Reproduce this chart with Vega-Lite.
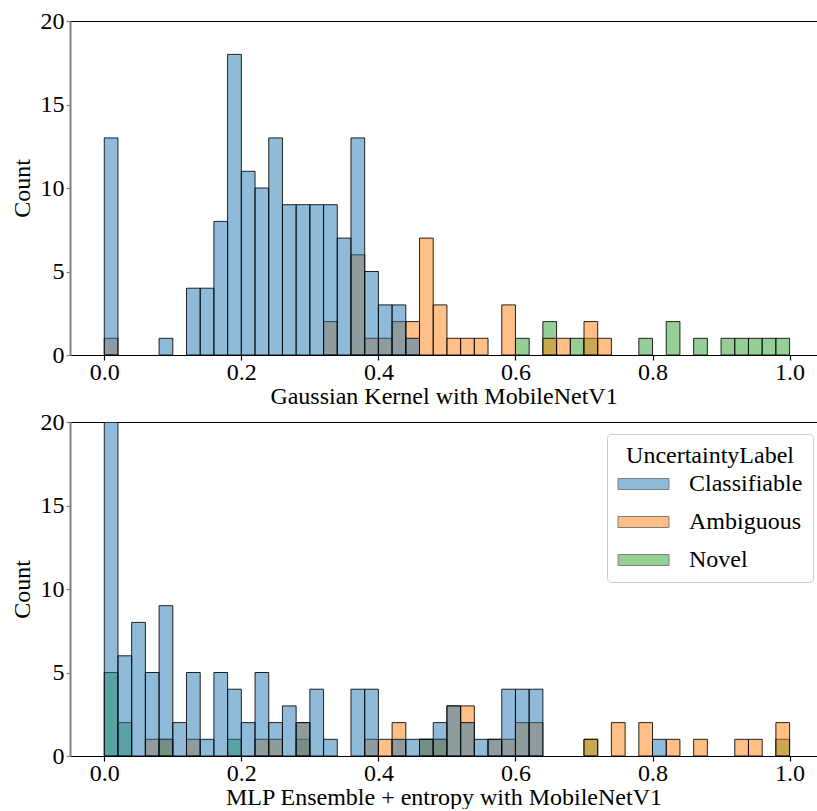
{
  "$schema": "https://vega.github.io/schema/vega-lite/v6.json",
  "padding": {"left": 10, "top": 9, "right": 0, "bottom": 0},
  "autosize": {"type": "pad"},
  "spacing": 2,
  "config": {
    "font": "Liberation Serif",
    "view": {"stroke": null},
    "axis": {
      "grid": false,
      "labelFont": "Liberation Serif",
      "labelFontSize": 24,
      "labelColor": "black",
      "titleFont": "Liberation Serif",
      "titleFontSize": 24,
      "titleFontWeight": "normal",
      "titleColor": "black",
      "labelFlush": false
    }
  },
  "datasets": {
    "top": [
      {"label": "Novel", "bin_start": 0.6, "bin_end": 0.62, "count": 1},
      {"label": "Novel", "bin_start": 0.64, "bin_end": 0.66, "count": 2},
      {"label": "Novel", "bin_start": 0.68, "bin_end": 0.7, "count": 1},
      {"label": "Novel", "bin_start": 0.7, "bin_end": 0.72, "count": 1},
      {"label": "Novel", "bin_start": 0.78, "bin_end": 0.8, "count": 1},
      {"label": "Novel", "bin_start": 0.82, "bin_end": 0.84, "count": 2},
      {"label": "Novel", "bin_start": 0.86, "bin_end": 0.88, "count": 1},
      {"label": "Novel", "bin_start": 0.9, "bin_end": 0.92, "count": 1},
      {"label": "Novel", "bin_start": 0.92, "bin_end": 0.94, "count": 1},
      {"label": "Novel", "bin_start": 0.94, "bin_end": 0.96, "count": 1},
      {"label": "Novel", "bin_start": 0.96, "bin_end": 0.98, "count": 1},
      {"label": "Novel", "bin_start": 0.98, "bin_end": 1.0, "count": 1},
      {"label": "Ambiguous", "bin_start": 0.0, "bin_end": 0.02, "count": 1},
      {"label": "Ambiguous", "bin_start": 0.32, "bin_end": 0.34, "count": 2},
      {"label": "Ambiguous", "bin_start": 0.36, "bin_end": 0.38, "count": 6},
      {"label": "Ambiguous", "bin_start": 0.38, "bin_end": 0.4, "count": 1},
      {"label": "Ambiguous", "bin_start": 0.4, "bin_end": 0.42, "count": 1},
      {"label": "Ambiguous", "bin_start": 0.42, "bin_end": 0.44, "count": 2},
      {"label": "Ambiguous", "bin_start": 0.44, "bin_end": 0.46, "count": 2},
      {"label": "Ambiguous", "bin_start": 0.46, "bin_end": 0.48, "count": 7},
      {"label": "Ambiguous", "bin_start": 0.48, "bin_end": 0.5, "count": 3},
      {"label": "Ambiguous", "bin_start": 0.5, "bin_end": 0.52, "count": 1},
      {"label": "Ambiguous", "bin_start": 0.52, "bin_end": 0.54, "count": 1},
      {"label": "Ambiguous", "bin_start": 0.54, "bin_end": 0.56, "count": 1},
      {"label": "Ambiguous", "bin_start": 0.58, "bin_end": 0.6, "count": 3},
      {"label": "Ambiguous", "bin_start": 0.64, "bin_end": 0.66, "count": 1},
      {"label": "Ambiguous", "bin_start": 0.66, "bin_end": 0.68, "count": 1},
      {"label": "Ambiguous", "bin_start": 0.7, "bin_end": 0.72, "count": 2},
      {"label": "Ambiguous", "bin_start": 0.72, "bin_end": 0.74, "count": 1},
      {"label": "Classifiable", "bin_start": 0.0, "bin_end": 0.02, "count": 13},
      {"label": "Classifiable", "bin_start": 0.08, "bin_end": 0.1, "count": 1},
      {"label": "Classifiable", "bin_start": 0.12, "bin_end": 0.14, "count": 4},
      {"label": "Classifiable", "bin_start": 0.14, "bin_end": 0.16, "count": 4},
      {"label": "Classifiable", "bin_start": 0.16, "bin_end": 0.18, "count": 8},
      {"label": "Classifiable", "bin_start": 0.18, "bin_end": 0.2, "count": 18},
      {"label": "Classifiable", "bin_start": 0.2, "bin_end": 0.22, "count": 11},
      {"label": "Classifiable", "bin_start": 0.22, "bin_end": 0.24, "count": 10},
      {"label": "Classifiable", "bin_start": 0.24, "bin_end": 0.26, "count": 13},
      {"label": "Classifiable", "bin_start": 0.26, "bin_end": 0.28, "count": 9},
      {"label": "Classifiable", "bin_start": 0.28, "bin_end": 0.3, "count": 9},
      {"label": "Classifiable", "bin_start": 0.3, "bin_end": 0.32, "count": 9},
      {"label": "Classifiable", "bin_start": 0.32, "bin_end": 0.34, "count": 9},
      {"label": "Classifiable", "bin_start": 0.34, "bin_end": 0.36, "count": 7},
      {"label": "Classifiable", "bin_start": 0.36, "bin_end": 0.38, "count": 13},
      {"label": "Classifiable", "bin_start": 0.38, "bin_end": 0.4, "count": 5},
      {"label": "Classifiable", "bin_start": 0.4, "bin_end": 0.42, "count": 3},
      {"label": "Classifiable", "bin_start": 0.42, "bin_end": 0.44, "count": 3},
      {"label": "Classifiable", "bin_start": 0.44, "bin_end": 0.46, "count": 1}
    ],
    "bottom": [
      {"label": "Novel", "bin_start": 0.0, "bin_end": 0.02, "count": 5},
      {"label": "Novel", "bin_start": 0.02, "bin_end": 0.04, "count": 2},
      {"label": "Novel", "bin_start": 0.08, "bin_end": 0.1, "count": 1},
      {"label": "Novel", "bin_start": 0.18, "bin_end": 0.2, "count": 1},
      {"label": "Novel", "bin_start": 0.28, "bin_end": 0.3, "count": 1},
      {"label": "Novel", "bin_start": 0.46, "bin_end": 0.48, "count": 1},
      {"label": "Novel", "bin_start": 0.48, "bin_end": 0.5, "count": 1},
      {"label": "Novel", "bin_start": 0.7, "bin_end": 0.72, "count": 1},
      {"label": "Novel", "bin_start": 0.98, "bin_end": 1.0, "count": 1},
      {"label": "Ambiguous", "bin_start": 0.06, "bin_end": 0.08, "count": 1},
      {"label": "Ambiguous", "bin_start": 0.08, "bin_end": 0.1, "count": 1},
      {"label": "Ambiguous", "bin_start": 0.12, "bin_end": 0.14, "count": 1},
      {"label": "Ambiguous", "bin_start": 0.22, "bin_end": 0.24, "count": 1},
      {"label": "Ambiguous", "bin_start": 0.24, "bin_end": 0.26, "count": 1},
      {"label": "Ambiguous", "bin_start": 0.28, "bin_end": 0.3, "count": 2},
      {"label": "Ambiguous", "bin_start": 0.38, "bin_end": 0.4, "count": 1},
      {"label": "Ambiguous", "bin_start": 0.4, "bin_end": 0.42, "count": 1},
      {"label": "Ambiguous", "bin_start": 0.42, "bin_end": 0.44, "count": 2},
      {"label": "Ambiguous", "bin_start": 0.46, "bin_end": 0.48, "count": 1},
      {"label": "Ambiguous", "bin_start": 0.48, "bin_end": 0.5, "count": 1},
      {"label": "Ambiguous", "bin_start": 0.5, "bin_end": 0.52, "count": 3},
      {"label": "Ambiguous", "bin_start": 0.52, "bin_end": 0.54, "count": 3},
      {"label": "Ambiguous", "bin_start": 0.56, "bin_end": 0.58, "count": 1},
      {"label": "Ambiguous", "bin_start": 0.58, "bin_end": 0.6, "count": 1},
      {"label": "Ambiguous", "bin_start": 0.6, "bin_end": 0.62, "count": 2},
      {"label": "Ambiguous", "bin_start": 0.62, "bin_end": 0.64, "count": 2},
      {"label": "Ambiguous", "bin_start": 0.7, "bin_end": 0.72, "count": 1},
      {"label": "Ambiguous", "bin_start": 0.74, "bin_end": 0.76, "count": 2},
      {"label": "Ambiguous", "bin_start": 0.78, "bin_end": 0.8, "count": 2},
      {"label": "Ambiguous", "bin_start": 0.82, "bin_end": 0.84, "count": 1},
      {"label": "Ambiguous", "bin_start": 0.86, "bin_end": 0.88, "count": 1},
      {"label": "Ambiguous", "bin_start": 0.92, "bin_end": 0.94, "count": 1},
      {"label": "Ambiguous", "bin_start": 0.94, "bin_end": 0.96, "count": 1},
      {"label": "Ambiguous", "bin_start": 0.98, "bin_end": 1.0, "count": 2},
      {"label": "Classifiable", "bin_start": 0.0, "bin_end": 0.02, "count": 53},
      {"label": "Classifiable", "bin_start": 0.02, "bin_end": 0.04, "count": 6},
      {"label": "Classifiable", "bin_start": 0.04, "bin_end": 0.06, "count": 8},
      {"label": "Classifiable", "bin_start": 0.06, "bin_end": 0.08, "count": 5},
      {"label": "Classifiable", "bin_start": 0.08, "bin_end": 0.1, "count": 9},
      {"label": "Classifiable", "bin_start": 0.1, "bin_end": 0.12, "count": 2},
      {"label": "Classifiable", "bin_start": 0.12, "bin_end": 0.14, "count": 5},
      {"label": "Classifiable", "bin_start": 0.14, "bin_end": 0.16, "count": 1},
      {"label": "Classifiable", "bin_start": 0.16, "bin_end": 0.18, "count": 5},
      {"label": "Classifiable", "bin_start": 0.18, "bin_end": 0.2, "count": 4},
      {"label": "Classifiable", "bin_start": 0.2, "bin_end": 0.22, "count": 2},
      {"label": "Classifiable", "bin_start": 0.22, "bin_end": 0.24, "count": 5},
      {"label": "Classifiable", "bin_start": 0.24, "bin_end": 0.26, "count": 2},
      {"label": "Classifiable", "bin_start": 0.26, "bin_end": 0.28, "count": 3},
      {"label": "Classifiable", "bin_start": 0.28, "bin_end": 0.3, "count": 2},
      {"label": "Classifiable", "bin_start": 0.3, "bin_end": 0.32, "count": 4},
      {"label": "Classifiable", "bin_start": 0.32, "bin_end": 0.34, "count": 1},
      {"label": "Classifiable", "bin_start": 0.36, "bin_end": 0.38, "count": 4},
      {"label": "Classifiable", "bin_start": 0.38, "bin_end": 0.4, "count": 4},
      {"label": "Classifiable", "bin_start": 0.42, "bin_end": 0.44, "count": 1},
      {"label": "Classifiable", "bin_start": 0.44, "bin_end": 0.46, "count": 1},
      {"label": "Classifiable", "bin_start": 0.46, "bin_end": 0.48, "count": 1},
      {"label": "Classifiable", "bin_start": 0.48, "bin_end": 0.5, "count": 2},
      {"label": "Classifiable", "bin_start": 0.5, "bin_end": 0.52, "count": 3},
      {"label": "Classifiable", "bin_start": 0.52, "bin_end": 0.54, "count": 2},
      {"label": "Classifiable", "bin_start": 0.54, "bin_end": 0.56, "count": 1},
      {"label": "Classifiable", "bin_start": 0.56, "bin_end": 0.58, "count": 1},
      {"label": "Classifiable", "bin_start": 0.58, "bin_end": 0.6, "count": 4},
      {"label": "Classifiable", "bin_start": 0.6, "bin_end": 0.62, "count": 4},
      {"label": "Classifiable", "bin_start": 0.62, "bin_end": 0.64, "count": 4},
      {"label": "Classifiable", "bin_start": 0.8, "bin_end": 0.82, "count": 1}
    ]
  },
  "resolve": {"legend": {"color": "independent"}},
  "vconcat": [
    {
      "width": 747,
      "height": 334,
      "data": {"name": "top"},
      "layer": [
        {
          "mark": {"type": "bar", "clip": true, "fillOpacity": 0.5, "stroke": "black", "strokeOpacity": 0.85, "strokeWidth": 1},
          "encoding": {
            "x": {"field": "bin_start", "type": "quantitative", "title": "Gaussian Kernel with MobileNetV1",
              "scale": {"domain": [-0.05, 1.04], "nice": false, "zero": false},
              "axis": {"values": [0, 0.2, 0.4, 0.6, 0.8, 1.0], "format": ".1f", "domainColor": "black", "domainWidth": 1.2, "tickColor": "black", "tickSize": 5, "tickWidth": 1.2, "labelPadding": 0, "titlePadding": 0}},
            "x2": {"field": "bin_end"},
            "y": {"field": "count", "type": "quantitative", "stack": null, "title": "Count",
              "scale": {"domain": [0, 20], "nice": false},
              "axis": {"values": [0, 5, 10, 15, 20], "domainColor": "#808080", "domainWidth": 2, "tickColor": "#808080", "tickSize": 4, "tickWidth": 1.2, "labelPadding": 2, "titlePadding": 6}},
            "y2": {"datum": 0},
            "color": {"field": "label", "type": "nominal",
              "scale": {"domain": ["Classifiable", "Ambiguous", "Novel"], "range": ["#1f77b4", "#ff7f0e", "#2ca02c"]},
              "legend": null}
          }
        },
        {
          "mark": {"type": "bar", "opacity": 0, "clip": true},
          "encoding": {
            "x": {"field": "bin_start", "type": "quantitative", "axis": {"orient": "top", "labels": false, "ticks": false, "title": null, "domainColor": "black", "domainWidth": 1.2}},
            "x2": {"field": "bin_end"},
            "y": {"field": "count", "type": "quantitative", "stack": null, "title": "Count"},
            "y2": {"datum": 0}
          }
        }
      ],
      "resolve": {"axis": {"x": "independent"}}
    },
    {
      "width": 747,
      "height": 334,
      "data": {"name": "bottom"},
      "layer": [
        {
          "mark": {"type": "bar", "clip": true, "fillOpacity": 0.5, "stroke": "black", "strokeOpacity": 0.85, "strokeWidth": 1},
          "encoding": {
            "x": {"field": "bin_start", "type": "quantitative", "title": "MLP Ensemble + entropy with MobileNetV1",
              "scale": {"domain": [-0.05, 1.04], "nice": false, "zero": false},
              "axis": {"values": [0, 0.2, 0.4, 0.6, 0.8, 1.0], "format": ".1f", "domainColor": "black", "domainWidth": 1.2, "tickColor": "black", "tickSize": 5, "tickWidth": 1.2, "labelPadding": 0, "titlePadding": 0}},
            "x2": {"field": "bin_end"},
            "y": {"field": "count", "type": "quantitative", "stack": null, "title": "Count",
              "scale": {"domain": [0, 20], "nice": false},
              "axis": {"values": [0, 5, 10, 15, 20], "domainColor": "#808080", "domainWidth": 2, "tickColor": "#808080", "tickSize": 4, "tickWidth": 1.2, "labelPadding": 2, "titlePadding": 6}},
            "y2": {"datum": 0},
            "color": {"field": "label", "type": "nominal",
              "scale": {"domain": ["Classifiable", "Ambiguous", "Novel"], "range": ["#1f77b4", "#ff7f0e", "#2ca02c"]},
              "legend": {
                "orient": "none", "legendX": 537, "legendY": 12,
                "title": "UncertaintyLabel", "titleFont": "Liberation Serif", "titleFontSize": 24, "titleFontWeight": "normal", "titleColor": "black", "titleAnchor": "middle", "titlePadding": 4,
                "labelFont": "Liberation Serif", "labelFontSize": 24, "labelColor": "black", "labelOffset": 33.5,
                "symbolType": "M-2.318,-0.5H2.318V0.5H-2.318Z", "symbolSize": 484, "symbolOffset": 14.5, "symbolStrokeColor": "black", "symbolStrokeWidth": 1, "symbolOpacity": 0.5,
                "rowPadding": 14, "padding": 10, "strokeColor": "#cccccc", "cornerRadius": 4, "fillColor": "white"
              }}
          }
        },
        {
          "mark": {"type": "bar", "opacity": 0, "clip": true},
          "encoding": {
            "x": {"field": "bin_start", "type": "quantitative", "axis": {"orient": "top", "labels": false, "ticks": false, "title": null, "domainColor": "black", "domainWidth": 1.2}},
            "x2": {"field": "bin_end"},
            "y": {"field": "count", "type": "quantitative", "stack": null, "title": "Count"},
            "y2": {"datum": 0}
          }
        }
      ],
      "resolve": {"axis": {"x": "independent"}}
    }
  ]
}
